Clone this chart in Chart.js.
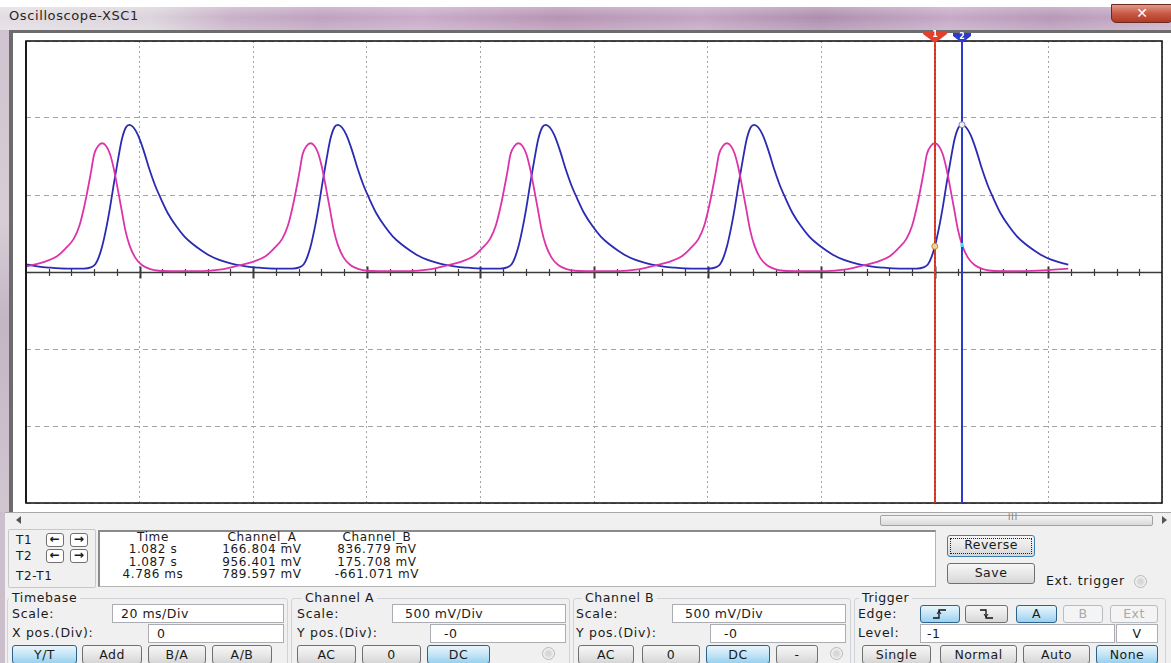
<!DOCTYPE html>
<html><head><meta charset="utf-8">
<script src="https://cdn.jsdelivr.net/npm/chart.js@4.4.1/dist/chart.umd.min.js"></script>
<style>
*{box-sizing:border-box}
body{margin:0;width:1171px;height:663px;overflow:hidden;background:#f0f0f0;font-family:"DejaVu Sans",Verdana,sans-serif;font-size:12px;color:#1a1a1a;position:relative}
.a{position:absolute}
.lbl{position:absolute;font-size:12.5px;letter-spacing:0.7px;white-space:nowrap;line-height:14px}
.btn{position:absolute;border:1px solid #707070;border-radius:3px;background:linear-gradient(#f6f6f6,#e8e8e8 50%,#d6d6d6);text-align:center;font-size:12.5px;letter-spacing:0.5px;line-height:17px;height:19px;white-space:nowrap}
.btn.on{border-color:#2c628b;background:linear-gradient(#e8f5fc,#c4e5f6 50%,#98d1ef)}
.btn.dis{color:#a8a8a8;border-color:#b8bcc0;background:#f4f4f4}
.inp{position:absolute;background:#fff;border:1px solid #abadb3;font-size:12.5px;letter-spacing:0.5px;line-height:17px;height:19px;white-space:nowrap}
.grp{position:absolute;border:1px solid #d0d4d8;border-radius:3px;top:598px;height:80px}
.gl{position:absolute;top:591px;background:#f0f0f0;padding:0 3px;font-size:12.5px;letter-spacing:0.6px;line-height:14px}
.rd{position:absolute;width:13px;height:13px;border-radius:50%;border:1px solid #b8b8b8;background:radial-gradient(#d8d8d8 30%,#f4f4f4 70%)}
.ro{position:absolute;width:110px;text-align:center;font-size:12px;letter-spacing:0.6px;line-height:12px;white-space:nowrap}
</style></head>
<body>
<!-- window chrome -->
<div class="a" style="left:0;top:0;width:1171px;height:7px;background:#fff"></div>
<div class="a" style="left:0;top:7px;width:1171px;height:23px;background:linear-gradient(90deg,#e2dde2 0,#dcd4dc 150px,#c9b1c9 230px,#bfa2bf 320px,#c9abc9 420px,#b694b4 560px,#c3a5c3 700px,#ae8eae 820px,#c5a9c7 950px,#b898b8 1050px,#c8b0c8 1171px)"></div>
<div class="a" style="left:0;top:7px;width:1171px;height:23px;background:linear-gradient(rgba(255,255,255,0.25),rgba(255,255,255,0) 45%,rgba(255,255,255,0.2))"></div>
<div class="a" style="left:9px;top:8px;font-family:'DejaVu Sans';font-size:13px;letter-spacing:0.6px;color:#262626;line-height:16px">Oscilloscope-XSC1</div>
<div class="a" style="left:1111px;top:4px;width:62px;height:19px;border:1px solid #6a2a22;border-radius:0 0 5px 5px;background:linear-gradient(#e29a8a,#c85a44 50%,#b03a24);color:#fff;font-weight:bold;font-size:14px;text-align:center;line-height:16px">✕</div>
<div class="a" style="left:0;top:30px;width:9px;height:482px;background:linear-gradient(#cfc4cf,#d6cdd6 40%,#c4b6c4 60%,#d0c6d0)"></div>
<div class="a" style="left:0;top:512px;width:5px;height:151px;background:#cbbfcb"></div>
<div class="a" style="left:9px;top:30px;width:1162px;height:3px;background:#6c6c6c"></div>
<div class="a" style="left:9px;top:30px;width:4px;height:482px;background:#6c6c6c"></div>
<div class="a" style="left:13px;top:33px;width:1158px;height:479px;background:#fff"></div>
<div class="a" style="left:5px;top:512px;width:1166px;height:1px;background:#a8a8a8"></div>
<!-- scrollbar -->
<div class="a" style="left:16px;top:516px;width:0;height:0;border-top:4px solid transparent;border-bottom:4px solid transparent;border-right:5px solid #555"></div>
<div class="a" style="left:880px;top:515px;width:273px;height:11px;border:1px solid #a2a2a2;border-radius:2px;background:linear-gradient(#f4f4f4,#dadada)"></div>
<div class="a" style="left:1008px;top:513px;font-size:8px;color:#777;letter-spacing:1px">III</div>
<div class="a" style="left:1162px;top:516px;width:0;height:0;border-top:4px solid transparent;border-bottom:4px solid transparent;border-left:5px solid #555"></div>

<canvas id="c" width="1171" height="512" class="a" style="left:0;top:0"></canvas>

<!-- cursor readout -->
<div class="a" style="left:8px;top:529px;width:88px;height:59px;border:1px solid #c8c8c8;border-radius:2px"></div>
<div class="lbl" style="left:16px;top:533px;font-size:12px">T1</div>
<div class="lbl" style="left:16px;top:549px;font-size:12px">T2</div>
<div class="lbl" style="left:16px;top:569px;font-size:12px">T2-T1</div>
<div class="btn" style="left:46px;top:533px;width:18px;height:14px;line-height:11px;font-size:12px;font-weight:bold;background:#fff">←</div>
<div class="btn" style="left:70px;top:533px;width:18px;height:14px;line-height:11px;font-size:12px;font-weight:bold;background:#fff">→</div>
<div class="btn" style="left:46px;top:549px;width:18px;height:14px;line-height:11px;font-size:12px;font-weight:bold;background:#fff">←</div>
<div class="btn" style="left:70px;top:549px;width:18px;height:14px;line-height:11px;font-size:12px;font-weight:bold;background:#fff">→</div>
<div class="a" style="left:98px;top:530px;width:838px;height:57px;background:#fff;border:1px solid #b4b4b4;border-top:2px solid #8a8a8a;border-left:2px solid #8a8a8a"></div>
<div id="readout"></div>

<div class="btn" style="left:947px;top:535px;width:88px;height:22px;line-height:18px;border-color:#3c7fb1;outline:1px dotted #222;outline-offset:-4px">Reverse</div>
<div class="btn" style="left:947px;top:563px;width:88px;height:21px;line-height:18px">Save</div>
<div class="lbl" style="left:1046px;top:574px">Ext. trigger</div>
<div class="rd" style="left:1134px;top:575px"></div>

<!-- groups -->
<div class="grp" style="left:7px;width:281px"></div>
<div class="grp" style="left:291px;width:279px"></div>
<div class="grp" style="left:573px;width:278px"></div>
<div class="grp" style="left:854px;width:312px"></div>
<div class="gl" style="left:9px">Timebase</div>
<div class="gl" style="left:302px">Channel A</div>
<div class="gl" style="left:582px">Channel B</div>
<div class="gl" style="left:859px">Trigger</div>

<div class="lbl" style="left:12px;top:607px">Scale:</div>
<div class="lbl" style="left:12px;top:626px">X pos.(Div):</div>
<div class="inp" style="left:112px;top:604px;width:172px;padding-left:8px">20 ms/Div</div>
<div class="inp" style="left:148px;top:624px;width:136px;padding-left:8px">0</div>

<div class="lbl" style="left:297px;top:607px">Scale:</div>
<div class="lbl" style="left:297px;top:626px">Y pos.(Div):</div>
<div class="inp" style="left:392px;top:604px;width:174px;padding-left:12px">500 mV/Div</div>
<div class="inp" style="left:430px;top:624px;width:136px;padding-left:13px">-0</div>

<div class="lbl" style="left:576px;top:607px">Scale:</div>
<div class="lbl" style="left:576px;top:626px">Y pos.(Div):</div>
<div class="inp" style="left:672px;top:604px;width:174px;padding-left:12px">500 mV/Div</div>
<div class="inp" style="left:710px;top:624px;width:136px;padding-left:13px">-0</div>

<div class="lbl" style="left:858px;top:607px">Edge:</div>
<div class="lbl" style="left:858px;top:626px">Level:</div>
<div class="btn on" style="left:920px;top:605px;width:40px;height:18px"><svg width="20" height="14" style="margin-top:1px"><path d="M3 11H9V3H16" fill="none" stroke="#111" stroke-width="1.3"/><path d="M7 7L9 4L11 7" fill="none" stroke="#111" stroke-width="1"/></svg></div>
<div class="btn" style="left:965px;top:605px;width:43px;height:18px"><svg width="20" height="14" style="margin-top:1px"><path d="M3 3H9V11H16" fill="none" stroke="#111" stroke-width="1.3"/><path d="M7 7L9 10L11 7" fill="none" stroke="#111" stroke-width="1"/></svg></div>
<div class="btn on" style="left:1016px;top:605px;width:41px;height:18px;line-height:16px">A</div>
<div class="btn dis" style="left:1063px;top:605px;width:40px;height:18px;line-height:16px">B</div>
<div class="btn dis" style="left:1110px;top:605px;width:48px;height:18px;line-height:16px">Ext</div>
<div class="inp" style="left:920px;top:624px;width:195px;padding-left:6px">-1</div>
<div class="inp" style="left:1116px;top:624px;width:42px;text-align:center">V</div>

<div class="btn on" style="left:12px;top:645px;width:65px">Y/T</div>
<div class="btn" style="left:82px;top:645px;width:60px">Add</div>
<div class="btn" style="left:148px;top:645px;width:58px">B/A</div>
<div class="btn" style="left:212px;top:645px;width:60px">A/B</div>
<div class="btn" style="left:297px;top:645px;width:59px">AC</div>
<div class="btn" style="left:362px;top:645px;width:59px">0</div>
<div class="btn on" style="left:427px;top:645px;width:63px">DC</div>
<div class="rd" style="left:542px;top:647px"></div>
<div class="btn" style="left:578px;top:645px;width:56px">AC</div>
<div class="btn" style="left:642px;top:645px;width:58px">0</div>
<div class="btn on" style="left:706px;top:645px;width:64px">DC</div>
<div class="btn" style="left:776px;top:645px;width:42px">-</div>
<div class="rd" style="left:830px;top:647px"></div>
<div class="btn" style="left:862px;top:645px;width:69px">Single</div>
<div class="btn" style="left:940px;top:645px;width:77px">Normal</div>
<div class="btn" style="left:1023px;top:645px;width:67px">Auto</div>
<div class="btn on" style="left:1096px;top:645px;width:62px">None</div>

<script>
// ---- Data (time in ms from left edge, volts) ----
// Channel_B (magenta trace)
const chanBTimesMs = [0, 1.4, 3.4, 5.4, 6.9, 8.4, 9.4, 10.4, 11.4, 12.0, 12.7, 13.4, 14.1, 14.8, 15.4, 16.1, 16.8, 17.5, 18.2, 19.2, 20.4, 21.9, 23.4, 26.4, 29.4,
 31.1, 34.1, 36.1, 38.1, 40.1, 42.1, 43.6, 45.1, 46.1, 47.1, 48.1, 48.7, 49.4, 50.1, 50.8, 51.5, 52.1, 52.8, 53.5, 54.2, 54.9, 55.9, 57.1, 58.6, 60.1, 63.1, 66.1,
 67.7, 70.7, 72.7, 74.7, 76.7, 78.7, 80.2, 81.7, 82.7, 83.7, 84.7, 85.3, 86.0, 86.7, 87.4, 88.1, 88.7, 89.4, 90.1, 90.8, 91.5, 92.5, 93.7, 95.2, 96.7, 99.7, 102.7,
 104.4, 107.4, 109.4, 111.4, 113.4, 115.4, 116.9, 118.4, 119.4, 120.4, 121.4, 122.0, 122.7, 123.4, 124.1, 124.8, 125.4, 126.1, 126.8, 127.5, 128.2, 129.2, 130.4, 131.9, 133.4, 136.4, 139.4,
 141.0, 144.0, 146.0, 148.0, 150.0, 152.0, 153.5, 155.0, 156.0, 157.0, 158.0, 158.6, 159.3, 160.0, 160.7, 161.4, 162.0, 162.7, 163.4, 164.1, 164.8, 165.8, 167.0, 168.5, 170.0, 173.0, 176.0, 180.0, 183.5];
const chanBVolts = [0.035, 0.048, 0.068, 0.100, 0.150, 0.215, 0.300, 0.450, 0.640, 0.765, 0.818, 0.836, 0.818, 0.765, 0.680, 0.550, 0.410, 0.270, 0.176, 0.095, 0.045, 0.018, 0.008, 0.005, 0.006,
 0.006, 0.015, 0.030, 0.048, 0.068, 0.100, 0.150, 0.215, 0.300, 0.450, 0.640, 0.765, 0.818, 0.836, 0.818, 0.765, 0.680, 0.550, 0.410, 0.270, 0.176, 0.095, 0.045, 0.018, 0.008, 0.005, 0.006,
 0.006, 0.015, 0.030, 0.048, 0.068, 0.100, 0.150, 0.215, 0.300, 0.450, 0.640, 0.765, 0.818, 0.836, 0.818, 0.765, 0.680, 0.550, 0.410, 0.270, 0.176, 0.095, 0.045, 0.018, 0.008, 0.005, 0.006,
 0.006, 0.015, 0.030, 0.048, 0.068, 0.100, 0.150, 0.215, 0.300, 0.450, 0.640, 0.765, 0.818, 0.836, 0.818, 0.765, 0.680, 0.550, 0.410, 0.270, 0.176, 0.095, 0.045, 0.018, 0.008, 0.005, 0.006,
 0.006, 0.015, 0.030, 0.048, 0.068, 0.100, 0.150, 0.215, 0.300, 0.450, 0.640, 0.765, 0.818, 0.836, 0.818, 0.765, 0.680, 0.550, 0.410, 0.270, 0.176, 0.095, 0.045, 0.018, 0.008, 0.005, 0.006, 0.012, 0.022];
// Channel_A (blue trace)
const chanATimesMs = [0, 2.0, 4.0,
 7.2, 10.2, 11.4, 12.2, 12.8, 13.4, 14.1, 14.8, 15.5, 16.2, 16.9, 17.6, 18.2, 18.9, 19.7, 20.7, 21.7, 22.7, 23.7, 25.0, 26.4, 27.9, 29.4, 30.9, 32.4, 33.9, 35.4, 36.9, 38.7, 40.7,
 43.9, 46.9, 48.1, 48.9, 49.5, 50.1, 50.8, 51.5, 52.2, 52.9, 53.6, 54.3, 54.9, 55.6, 56.4, 57.4, 58.4, 59.4, 60.4, 61.7, 63.1, 64.6, 66.1, 67.6, 69.1, 70.6, 72.1, 73.6, 75.4, 77.4,
 80.5, 83.5, 84.7, 85.5, 86.1, 86.7, 87.4, 88.1, 88.8, 89.5, 90.2, 90.9, 91.5, 92.2, 93.0, 94.0, 95.0, 96.0, 97.0, 98.3, 99.7, 101.2, 102.7, 104.2, 105.7, 107.2, 108.7, 110.2, 112.0, 114.0,
 117.2, 120.2, 121.4, 122.2, 122.8, 123.4, 124.1, 124.8, 125.5, 126.2, 126.9, 127.6, 128.2, 128.9, 129.7, 130.7, 131.7, 132.7, 133.7, 135.0, 136.4, 137.9, 139.4, 140.9, 142.4, 143.9, 145.4, 146.9, 148.7, 150.7,
 153.8, 156.8, 158.0, 158.8, 159.4, 160.0, 160.7, 161.4, 162.1, 162.8, 163.5, 164.2, 164.8, 165.5, 166.3, 167.3, 168.3, 169.3, 170.3, 171.6, 173.0, 174.5, 176.0, 177.5, 179.0, 180.5, 182.0, 183.5];
const chanAVolts = [0.050, 0.037, 0.029,
 0.022, 0.022, 0.030, 0.050, 0.095, 0.165, 0.280, 0.420, 0.580, 0.730, 0.865, 0.940, 0.956, 0.940, 0.890, 0.790, 0.670, 0.565, 0.480, 0.380, 0.300, 0.230, 0.180, 0.140, 0.105, 0.080, 0.062, 0.048, 0.037, 0.029,
 0.022, 0.022, 0.030, 0.050, 0.095, 0.165, 0.280, 0.420, 0.580, 0.730, 0.865, 0.940, 0.956, 0.940, 0.890, 0.790, 0.670, 0.565, 0.480, 0.380, 0.300, 0.230, 0.180, 0.140, 0.105, 0.080, 0.062, 0.048, 0.037, 0.029,
 0.022, 0.022, 0.030, 0.050, 0.095, 0.165, 0.280, 0.420, 0.580, 0.730, 0.865, 0.940, 0.956, 0.940, 0.890, 0.790, 0.670, 0.565, 0.480, 0.380, 0.300, 0.230, 0.180, 0.140, 0.105, 0.080, 0.062, 0.048, 0.037, 0.029,
 0.022, 0.022, 0.030, 0.050, 0.095, 0.165, 0.280, 0.420, 0.580, 0.730, 0.865, 0.940, 0.956, 0.940, 0.890, 0.790, 0.670, 0.565, 0.480, 0.380, 0.300, 0.230, 0.180, 0.140, 0.105, 0.080, 0.062, 0.048, 0.037, 0.029,
 0.022, 0.022, 0.030, 0.050, 0.095, 0.165, 0.280, 0.420, 0.580, 0.730, 0.865, 0.940, 0.956, 0.940, 0.890, 0.790, 0.670, 0.565, 0.480, 0.380, 0.300, 0.230, 0.180, 0.140, 0.105, 0.080, 0.062, 0.048];
// Cursors (ms from left edge) and readout table
const cursorTimesMs = [160.0, 164.786];
const cursorChA = [0.166804, 0.956401];
const cursorChB = [0.836779, 0.175708];
const readoutHeaders = ['Time', 'Channel_A', 'Channel_B'];
const readoutTime = ['1.082 s', '1.087 s', '4.786 ms'];
const readoutChA = ['166.804 mV', '956.401 mV', '789.597 mV'];
const readoutChB = ['836.779 mV', '175.708 mV', '-661.071 mV'];
// Screen: 10 x 20 ms/Div, 6 x 500 mV/Div
const xDivMs = 20, xDivs = 10, yDivV = 0.5, yDivs = 6;

// readout text
(function(){
  const cols = [[98, readoutTime], [207, readoutChA], [322, readoutChB]];
  const tops = [531, 543, 556, 568];
  let html = '';
  cols.forEach((c, ci) => {
    html += `<div class="ro" style="left:${c[0]}px;top:${tops[0]}px">${readoutHeaders[ci]}</div>`;
    c[1].forEach((v, ri) => { html += `<div class="ro" style="left:${c[0]}px;top:${tops[ri+1]}px">${v}</div>`; });
  });
  document.getElementById('readout').innerHTML = html;
})();

const PINK = '#dc34a8', BLUE = '#2a2ab2';

const scopeDeco = {
  id: 'scopeDeco',
  beforeDatasetsDraw(chart) {
    const {ctx, chartArea: a, scales: {x, y}} = chart;
    ctx.save();
    const y0 = Math.round(y.getPixelForValue(0)) + 0.5;
    ctx.strokeStyle = '#3a3a3a';
    ctx.lineWidth = 1.5;
    ctx.beginPath(); ctx.moveTo(a.left, y0); ctx.lineTo(a.right, y0); ctx.stroke();
    for (let t = xDivMs / 5; t < xDivMs * xDivs; t += xDivMs / 5) {
      const px = Math.round(x.getPixelForValue(t)) + 0.5;
      const major = Math.abs(t / xDivMs - Math.round(t / xDivMs)) < 1e-6;
      ctx.lineWidth = major ? 2 : 1.2;
      const h = major ? 6 : 3.5;
      ctx.beginPath(); ctx.moveTo(px, y0 - h); ctx.lineTo(px, y0 + h); ctx.stroke();
    }
    ctx.restore();
  },
  afterDatasetsDraw(chart) {
    const {ctx, chartArea: a, scales: {x, y}} = chart;
    ctx.save();
    ctx.strokeStyle = '#1a1a1a';
    ctx.lineWidth = 1.6;
    ctx.strokeRect(a.left, a.top, a.right - a.left, a.bottom - a.top);
    ctx.lineWidth = 2;
    ctx.beginPath(); ctx.moveTo(a.left, a.top); ctx.lineTo(a.left, a.bottom); ctx.stroke();
    const cols = ['#e0402c', '#2c3ad0'];
    cursorTimesMs.forEach((t, i) => {
      const px = Math.round(x.getPixelForValue(t));
      ctx.strokeStyle = cols[i];
      ctx.lineWidth = 2;
      ctx.beginPath(); ctx.moveTo(px, a.top - 1); ctx.lineTo(px, a.bottom); ctx.stroke();
      if (i === 0) { ctx.strokeStyle = 'rgba(120,20,10,0.6)'; ctx.lineWidth = 0.7; ctx.setLineDash([2,2]); ctx.beginPath(); ctx.moveTo(px, a.top); ctx.lineTo(px, a.bottom); ctx.stroke(); ctx.setLineDash([]); }
      const w = i === 0 ? 12 : 9, top = i === 0 ? 31 : 33;
      ctx.fillStyle = cols[i];
      ctx.beginPath();
      ctx.moveTo(px - w, top); ctx.lineTo(px + w, top); ctx.lineTo(px + w, top + 3);
      ctx.lineTo(px, a.top + 2); ctx.lineTo(px - w, top + 3); ctx.closePath(); ctx.fill();
      ctx.fillStyle = '#fff';
      ctx.font = 'bold 8px "DejaVu Sans"';
      ctx.textAlign = 'center'; ctx.textBaseline = 'middle';
      ctx.fillText(String(i + 1), px, top + 3.5);
    });
    const pxA = x.getPixelForValue(cursorTimesMs[0]);
    const pxB = x.getPixelForValue(cursorTimesMs[1]);
    const mk = (px, v, stroke, fill) => {
      ctx.beginPath(); ctx.arc(px, y.getPixelForValue(v), 3, 0, Math.PI * 2);
      ctx.fillStyle = fill; ctx.fill(); ctx.lineWidth = 1; ctx.strokeStyle = stroke; ctx.stroke();
    };
    mk(pxA, cursorChA[0], '#e07a30', '#d8e0a0');
    mk(pxB, cursorChA[1], '#8080a0', '#f0f0f0');
    ctx.fillStyle = '#40e0e0';
    ctx.fillRect(pxB - 1.5, y.getPixelForValue(cursorChB[1]) - 2, 3, 4);
    ctx.restore();
  }
};

new Chart(document.getElementById('c'), {
  type: 'line',
  data: {
    datasets: [
      { label: 'Channel_B', data: chanBTimesMs.map((t, i) => ({x: t, y: chanBVolts[i]})),
        borderColor: PINK, borderWidth: 1.8, pointRadius: 0, cubicInterpolationMode: 'monotone', fill: false },
      { label: 'Channel_A', data: chanATimesMs.map((t, i) => ({x: t, y: chanAVolts[i]})),
        borderColor: BLUE, borderWidth: 1.8, pointRadius: 0, cubicInterpolationMode: 'monotone', fill: false }
    ]
  },
  options: {
    responsive: false, animation: false, events: [],
    layout: { padding: { left: 26, top: 41, right: 9, bottom: 9 } },
    plugins: { legend: { display: false }, tooltip: { enabled: false } },
    scales: {
      x: { type: 'linear', min: 0, max: xDivMs * xDivs,
        ticks: { display: false, stepSize: xDivMs },
        grid: { color: '#a4a4a4', lineWidth: 1, drawTicks: false, tickLength: 0 },
        border: { display: false, dash: [2, 3] } },
      y: { type: 'linear', min: -yDivV * yDivs / 2, max: yDivV * yDivs / 2,
        ticks: { display: false, stepSize: yDivV },
        grid: { color: '#a4a4a4', lineWidth: 1, drawTicks: false, tickLength: 0 },
        border: { display: false, dash: [5, 4] } }
    }
  },
  plugins: [scopeDeco]
});
</script>
</body></html>
